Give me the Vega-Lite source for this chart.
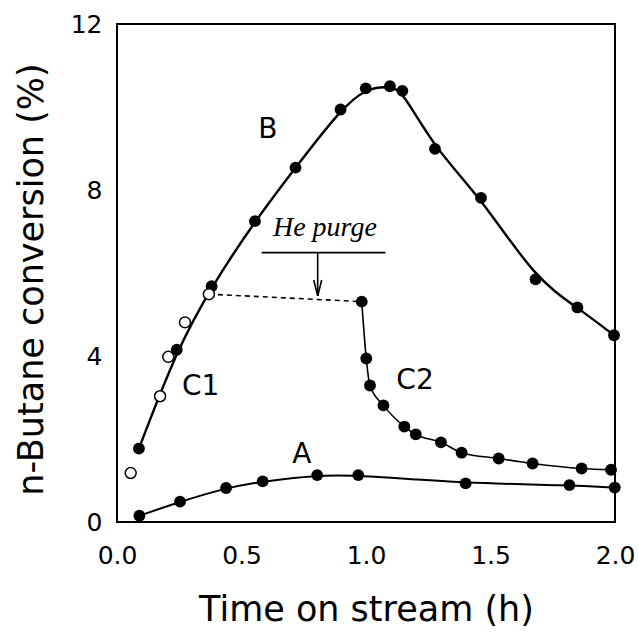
{
  "$schema": "https://vega.github.io/schema/vega-lite/v6.json",
  "width": 498,
  "height": 498,
  "autosize": {"type": "none"},
  "padding": {"left": 117, "top": 24, "right": 23, "bottom": 110},
  "background": "white",
  "config": {
    "view": {"stroke": "black", "strokeWidth": 2},
    "axis": {
      "domain": false, "ticks": false, "tickSize": 0,
      "labelFont": "DejaVu Sans", "labelFontSize": 25, "labelColor": "black",
      "titleFont": "DejaVu Sans", "titleFontSize": 35, "titleFontWeight": "normal", "titleColor": "black",
      "grid": false
    }
  },
  "datasets": {
    "pts": [
      {"t": 0.090, "v": 0.15, "s": "A"}, {"t": 0.253, "v": 0.49, "s": "A"}, {"t": 0.438, "v": 0.82, "s": "A"},
      {"t": 0.585, "v": 0.98, "s": "A"}, {"t": 0.804, "v": 1.13, "s": "A"}, {"t": 0.969, "v": 1.13, "s": "A"},
      {"t": 1.400, "v": 0.93, "s": "A"}, {"t": 1.817, "v": 0.89, "s": "A"}, {"t": 1.999, "v": 0.83, "s": "A"},
      {"t": 0.088, "v": 1.77, "s": "B"}, {"t": 0.240, "v": 4.15, "s": "B"}, {"t": 0.380, "v": 5.68, "s": "B"},
      {"t": 0.554, "v": 7.25, "s": "B"}, {"t": 0.717, "v": 8.54, "s": "B"}, {"t": 0.898, "v": 9.94, "s": "B"},
      {"t": 0.999, "v": 10.45, "s": "B"}, {"t": 1.096, "v": 10.50, "s": "B"}, {"t": 1.146, "v": 10.39, "s": "B"},
      {"t": 1.277, "v": 8.99, "s": "B"}, {"t": 1.462, "v": 7.81, "s": "B"}, {"t": 1.681, "v": 5.85, "s": "B"},
      {"t": 1.849, "v": 5.17, "s": "B"}, {"t": 1.996, "v": 4.50, "s": "B"},
      {"t": 0.055, "v": 1.18, "s": "C1"}, {"t": 0.173, "v": 3.03, "s": "C1"}, {"t": 0.206, "v": 3.98, "s": "C1"},
      {"t": 0.273, "v": 4.81, "s": "C1"}, {"t": 0.369, "v": 5.49, "s": "C1"},
      {"t": 0.983, "v": 5.31, "s": "C2"}, {"t": 1.001, "v": 3.94, "s": "C2"}, {"t": 1.016, "v": 3.29, "s": "C2"},
      {"t": 1.070, "v": 2.81, "s": "C2"}, {"t": 1.154, "v": 2.30, "s": "C2"}, {"t": 1.200, "v": 2.11, "s": "C2"},
      {"t": 1.301, "v": 1.92, "s": "C2"}, {"t": 1.384, "v": 1.67, "s": "C2"}, {"t": 1.533, "v": 1.53, "s": "C2"},
      {"t": 1.669, "v": 1.41, "s": "C2"}, {"t": 1.866, "v": 1.29, "s": "C2"}, {"t": 1.984, "v": 1.26, "s": "C2"}
    ],
    "dash": [{"t": 0.369, "v": 5.49}, {"t": 0.983, "v": 5.31}],
    "segs": [
      {"t": 0.581, "v": 6.49, "t2": 1.078, "v2": 6.49},
      {"t": 0.806, "v": 6.49, "t2": 0.806, "v2": 5.45},
      {"t": 0.790, "v": 5.83, "t2": 0.806, "v2": 5.45},
      {"t": 0.822, "v": 5.83, "t2": 0.806, "v2": 5.45}
    ],
    "labels": [
      {"t": 0.606, "v": 9.45, "txt": "B"},
      {"t": 0.742, "v": 1.61, "txt": "A"},
      {"t": 0.336, "v": 3.26, "txt": "C1"},
      {"t": 1.197, "v": 3.40, "txt": "C2"}
    ],
    "note": [{"t": 0.835, "v": 6.89, "txt": "He purge"}],
    "xmajor": [{"t": 0.5}, {"t": 1.0}, {"t": 1.5}],
    "xminor": [{"t": 0.25}, {"t": 0.75}, {"t": 1.25}, {"t": 1.75}],
    "ymajor": [{"v": 4}, {"v": 8}],
    "yminor": [{"v": 2}, {"v": 6}, {"v": 10}]
  },
  "encoding": {
    "x": {
      "field": "t", "type": "quantitative",
      "scale": {"domain": [0, 2], "nice": false, "zero": false},
      "axis": {
        "values": [0, 0.5, 1, 1.5, 2], "format": ".1f",
        "labelPadding": 21, "labelFlush": false, "labelOverlap": false,
        "title": "Time on stream (h)",
        "titleX": 249, "titleY": 98, "titleAlign": "center", "titleBaseline": "alphabetic", "titleAnchor": null
      }
    },
    "y": {
      "field": "v", "type": "quantitative",
      "scale": {"domain": [0, 12], "nice": false},
      "axis": {
        "values": [0, 4, 8, 12], "format": "d",
        "labelPadding": 15, "labelFlush": false, "labelOverlap": false,
        "title": "n-Butane conversion (%)",
        "titleAngle": 270,
        "titleX": -75, "titleY": 255, "titleAlign": "center", "titleBaseline": "alphabetic", "titleAnchor": null
      }
    }
  },
  "layer": [
    {
      "data": {"name": "xmajor"},
      "mark": {"type": "rule", "strokeWidth": 1.6, "color": "black"},
      "encoding": {"y": {"datum": 0, "type": "quantitative"}, "y2": {"datum": 0.24}}
    },
    {
      "data": {"name": "xminor"},
      "mark": {"type": "rule", "strokeWidth": 1.6, "color": "black"},
      "encoding": {"y": {"datum": 0, "type": "quantitative"}, "y2": {"datum": 0.145}}
    },
    {
      "data": {"name": "ymajor"},
      "mark": {"type": "rule", "strokeWidth": 1.6, "color": "black"},
      "encoding": {"x": {"datum": 0, "type": "quantitative"}, "x2": {"datum": 0.04}}
    },
    {
      "data": {"name": "yminor"},
      "mark": {"type": "rule", "strokeWidth": 1.6, "color": "black"},
      "encoding": {"x": {"datum": 0, "type": "quantitative"}, "x2": {"datum": 0.028}}
    },
    {
      "data": {"name": "pts"},
      "transform": [{"filter": "datum.s === 'A'"}],
      "mark": {"type": "line", "color": "black", "strokeWidth": 2, "interpolate": "basis"}
    },
    {
      "data": {"name": "pts"},
      "transform": [{"filter": "datum.s === 'B'"}],
      "mark": {"type": "line", "color": "black", "strokeWidth": 2.4, "interpolate": "basis"}
    },
    {
      "data": {"name": "pts"},
      "transform": [{"filter": "datum.s === 'C2'"}],
      "mark": {"type": "line", "color": "black", "strokeWidth": 1.6, "interpolate": "monotone"}
    },
    {
      "data": {"name": "dash"},
      "mark": {"type": "line", "color": "black", "strokeWidth": 1.6, "strokeDash": [5, 4]}
    },
    {
      "data": {"name": "segs"},
      "mark": {"type": "rule", "color": "black", "strokeWidth": 1.6},
      "encoding": {"x2": {"field": "t2"}, "y2": {"field": "v2"}}
    },
    {
      "data": {"name": "pts"},
      "transform": [{"filter": "datum.s !== 'C1'"}],
      "mark": {"type": "point", "filled": true, "color": "black", "size": 140, "opacity": 1}
    },
    {
      "data": {"name": "pts"},
      "transform": [{"filter": "datum.s === 'C1'"}],
      "mark": {"type": "point", "filled": true, "fill": "white", "stroke": "black", "strokeWidth": 1.5, "size": 120, "opacity": 1}
    },
    {
      "data": {"name": "labels"},
      "mark": {"type": "text", "font": "DejaVu Sans", "fontSize": 28, "color": "black", "baseline": "middle", "align": "center"},
      "encoding": {"text": {"field": "txt"}}
    },
    {
      "data": {"name": "note"},
      "mark": {"type": "text", "font": "Liberation Serif", "fontStyle": "italic", "fontSize": 28, "color": "black", "baseline": "alphabetic", "align": "center"},
      "encoding": {"text": {"field": "txt"}}
    }
  ]
}
